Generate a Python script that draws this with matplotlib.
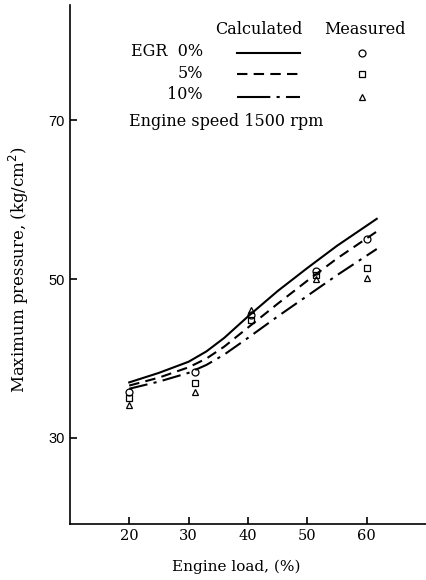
import matplotlib.pyplot as plt

plt.rcParams['font.family'] = ['DejaVu Serif']

# calculated curves (engine load %, max pressure kg/cm2)
load_calc = [20, 25, 30, 33, 36, 40, 45, 50, 55, 61.7]
egr0_calc = [37.0, 38.2, 39.6, 40.9, 42.6, 45.3, 48.5, 51.4, 54.2, 57.6]
egr5_calc = [36.6, 37.6, 38.9, 40.0, 41.5, 43.9, 46.9, 49.8, 52.6, 56.0]
egr10_calc = [36.2, 37.1, 38.2, 39.2, 40.5, 42.6, 45.3, 47.9, 50.5, 53.8]

# measured points
load_meas = [20, 31, 40.5, 51.5, 60]
egr0_meas = [35.8, 38.3, 45.5, 51.0, 55.0]
egr5_meas = [35.0, 36.9, 44.8, 50.5, 51.4]
egr10_meas = [34.2, 35.8, 46.1, 50.0, 50.1]

dash = (0, (5, 3))
dashdot = (0, (9, 3, 1.5, 3))

fig = plt.figure(figsize=(4.26, 5.8), dpi=100)
ax = fig.add_axes([0.164, 0.097, 0.836, 0.894])

ax.plot(load_calc, egr0_calc, color='black', lw=1.5, ls='-')
ax.plot(load_calc, egr5_calc, color='black', lw=1.5, ls=dash)
ax.plot(load_calc, egr10_calc, color='black', lw=1.5, ls=dashdot)

mk = dict(color='black', mfc='none', ls='none', ms=5, mew=0.9)
ax.plot(load_meas, egr0_meas, marker='o', **mk)
ax.plot(load_meas, egr5_meas, marker='s', **mk)
ax.plot(load_meas, egr10_meas, marker='^', **mk)

ax.set_xlim(10, 70)
ax.set_ylim(19.2, 84.5)
ax.set_xticks([20, 30, 40, 50, 60])
ax.set_yticks([30, 50, 70])
ax.tick_params(direction='in', length=5, width=1.2, labelsize=10.5)
for lbl in ax.get_yticklabels():
    lbl.set_family(['Liberation Sans', 'DejaVu Sans'])
ax.spines['right'].set_visible(False)
ax.spines['top'].set_visible(False)
ax.spines['left'].set_linewidth(1.2)
ax.spines['bottom'].set_linewidth(1.2)

ax.set_xlabel('Engine load, (%)', fontsize=11)
ax.xaxis.set_label_coords(0.466, -0.07)
ax.set_ylabel('Maximum pressure, (kg/cm$^2$)', fontsize=12)
ax.yaxis.set_label_coords(-0.11, 0.49)

# legend drawn as a little table like the original
fs = 11.5
ax.text(41.8, 81.5, 'Calculated', fontsize=fs, ha='center', va='center')
ax.text(59.7, 81.5, 'Measured', fontsize=fs, ha='center', va='center')
ax.text(20.3, 78.7, 'EGR  0%', fontsize=fs, ha='left', va='center')
ax.text(32.4, 75.9, '5%', fontsize=fs, ha='right', va='center')
ax.text(32.4, 73.3, '10%', fontsize=fs, ha='right', va='center')
ax.plot([38.1, 48.7], [78.5, 78.5], color='black', lw=1.5, ls='-')
ax.plot([38.1, 48.7], [75.9, 75.9], color='black', lw=1.5, ls=dash)
ax.plot([38.1, 48.7], [73.0, 73.0], color='black', lw=1.5, ls=(0, (16, 3, 1.5, 3)))
ax.plot([59.3], [78.5], marker='o', **mk)
ax.plot([59.3], [75.9], marker='s', **mk)
ax.plot([59.3], [73.0], marker='^', **mk)
ax.text(20.0, 69.8, 'Engine speed 1500 rpm', fontsize=fs, ha='left', va='center')

fig.savefig('out.png', dpi=100)
